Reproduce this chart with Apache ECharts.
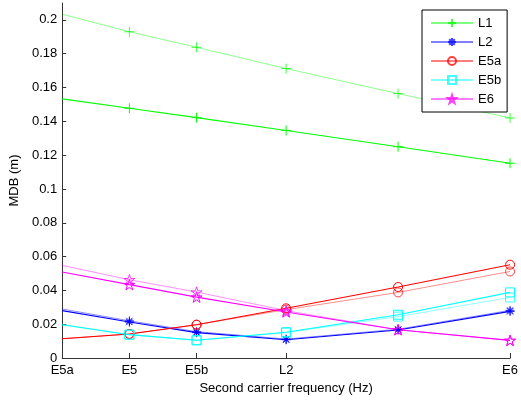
<!DOCTYPE html>
<html>
<head>
<meta charset="utf-8">
<script src="https://cdn.jsdelivr.net/npm/echarts@6/dist/echarts.min.js"></script>
<style>
  html, body { margin: 0; padding: 0; background: #fff; }
  #chart { width: 521px; height: 400px; }
</style>
</head>
<body>
<div id="chart"></div>
<script>
// Second-carrier frequencies (MHz) where each curve is sampled
var freqs = [1176.45, 1191.795, 1207.14, 1227.6, 1253.175, 1278.75];

// Labelled x ticks
var tickFreqs = [1176.45, 1191.795, 1207.14, 1227.6, 1278.75];
var tickNames = ['E5a', 'E5', 'E5b', 'L2', 'E6'];

// Y ticks (m)
var yTicks = [0, 0.02, 0.04, 0.06, 0.08, 0.1, 0.12, 0.14, 0.16, 0.18, 0.2];

// First carrier signals
var signals = ['L1', 'L2', 'E5a', 'E5b', 'E6'];

// MDB (m), two curves per signal
var mdbL1  = [0.1533, 0.1477, 0.1422, 0.1346, 0.1250, 0.1152];
var mdbL1b = [0.2034, 0.1930, 0.1838, 0.1712, 0.1564, 0.1420];

var mdbL2  = [0.0280, 0.0213, 0.0150, 0.0108, 0.0166, 0.0276];
var mdbL2b = [0.0290, 0.0220, 0.0156, 0.0112, 0.0170, 0.0282];

var mdbE5a  = [0.0114, 0.0142, 0.0197, 0.0294, 0.0420, 0.0552];
var mdbE5ab = [0.0114, 0.0142, 0.0197, 0.0286, 0.0388, 0.0512];

var mdbE5b  = [0.0197, 0.0138, 0.0105, 0.0152, 0.0256, 0.0388];
var mdbE5bb = [0.0197, 0.0138, 0.0105, 0.0150, 0.0245, 0.0358];

var mdbE6  = [0.0509, 0.0434, 0.0360, 0.0272, 0.0167, 0.0104];
var mdbE6b = [0.0548, 0.0463, 0.0390, 0.0280, 0.0167, 0.0104];

var colors = {
  L1: '#00ff00', L2: '#0000ff', E5a: '#ff0000', E5b: '#00ffff', E6: '#ff00ff'
};

var plusPath = 'path://M5,0L5,10M0,5L10,5';
var asteriskPath = 'path://M5,0L5,10M0,5L10,5M1.5,1.5L8.5,8.5M1.5,8.5L8.5,1.5';
var starPath = 'path://M50,0L61.2,34.5L97.6,34.5L68.2,55.9L79.4,90.5L50,69.1L20.6,90.5L31.8,55.9L2.4,34.5L38.8,34.5Z';

var markers = {
  L1: { symbol: plusPath, size: 10 },
  L2: { symbol: asteriskPath, size: 9 },
  E5a: { symbol: 'circle', size: 9 },
  E5b: { symbol: 'rect', size: 9 },
  E6: { symbol: starPath, size: 11 }
};

function toData(vals) {
  return freqs.map(function (f, i) {
    if (i === 0) return { value: [f, vals[i]], symbol: 'none' };
    return [f, vals[i]];
  });
}

function makeSeries(name, vals, faint) {
  var c = colors[name];
  var m = markers[name];
  return {
    name: name,
    type: 'line',
    z: 2,
    data: toData(vals),
    symbol: m.symbol,
    symbolSize: m.size,
    symbolKeepAspect: true,
    showAllSymbol: true,
    animation: false,
    lineStyle: { color: c, width: faint ? 0.9 : 1.1, opacity: faint ? 0.5 : 1 },
    itemStyle: { color: 'none', borderColor: c, borderWidth: 1, opacity: faint ? 0.75 : 1 },
    emphasis: { disabled: true }
  };
}

var series = [
  makeSeries('L1', mdbL1b, true),
  makeSeries('L1', mdbL1, false),
  makeSeries('L2', mdbL2b, true),
  makeSeries('L2', mdbL2, false),
  makeSeries('E5a', mdbE5ab, true),
  makeSeries('E5a', mdbE5a, false),
  makeSeries('E5b', mdbE5bb, true),
  makeSeries('E5b', mdbE5b, false),
  makeSeries('E6', mdbE6b, true),
  makeSeries('E6', mdbE6, false)
];

var font = 'Liberation Sans, Arial, Helvetica, sans-serif';
var axisColor = '#333333';

var chart = echarts.init(document.getElementById('chart'), null, { renderer: 'canvas' });
chart.setOption({
  animation: false,
  backgroundColor: '#ffffff',
  textStyle: { fontFamily: font },
  grid: { left: 60, right: 9, top: 3, bottom: 42, containLabel: false },
  legend: {
    data: signals,
    orient: 'vertical',
    left: 422,
    top: 10,
    z: 20,
    padding: [6, 6, 6, 8],
    itemWidth: 42,
    itemHeight: 10,
    itemGap: 5,
    backgroundColor: '#ffffff',
    borderColor: '#000000',
    borderWidth: 1,
    borderRadius: 0,
    selectedMode: false,
    textStyle: { color: '#000', fontSize: 13, lineHeight: 14, fontFamily: font }
  },
  xAxis: {
    type: 'value',
    min: 1176.45,
    max: 1278.75,
    name: 'Second carrier frequency (Hz)',
    nameLocation: 'middle',
    nameGap: 23,
    nameTextStyle: { color: '#000', fontSize: 13, fontFamily: font },
    axisLine: { show: true, onZero: false, lineStyle: { color: axisColor, width: 1 } },
    axisTick: { show: true, inside: true, length: 5, customValues: tickFreqs, lineStyle: { color: axisColor } },
    axisLabel: {
      color: '#000', fontSize: 13, fontFamily: font, margin: 6,
      customValues: tickFreqs,
      formatter: function (v) {
        for (var i = 0; i < tickFreqs.length; i++) {
          if (Math.abs(tickFreqs[i] - v) < 1e-6) return tickNames[i];
        }
        return '';
      }
    },
    splitLine: { show: false }
  },
  yAxis: {
    type: 'value',
    min: 0,
    max: 0.21,
    name: 'MDB (m)',
    nameLocation: 'middle',
    nameGap: 37,
    nameTextStyle: { color: '#000', fontSize: 13, fontFamily: font },
    axisLine: { show: true, onZero: false, lineStyle: { color: axisColor, width: 1 } },
    axisTick: { show: true, inside: true, length: 4, customValues: yTicks, lineStyle: { color: axisColor } },
    axisLabel: {
      color: '#000', fontSize: 13, fontFamily: font, margin: 5,
      customValues: yTicks,
      formatter: function (v) { return String(parseFloat(v.toFixed(4))); }
    },
    splitLine: { show: false }
  },
  series: series
});
</script>
</body>
</html>
